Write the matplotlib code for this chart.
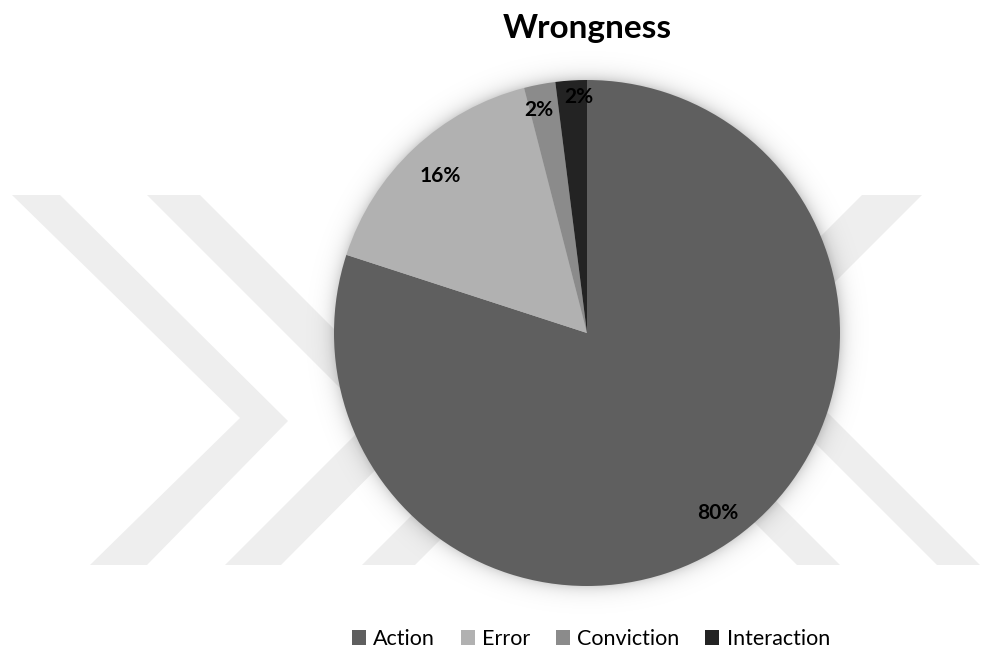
import numpy as np
import matplotlib.pyplot as plt
from matplotlib.patches import Polygon

# Wrongness breakdown
categories = ["Action", "Error", "Conviction", "Interaction"]
shares = [80, 16, 2, 2]
colors = ["#5f5f5f", "#b1b1b1", "#8b8b8b", "#232323"]

W, H = 981, 653
plt.rcParams["font.family"] = ["Lato", "DejaVu Sans"]

fig = plt.figure(figsize=(W / 100, H / 100), dpi=100)
fig.patch.set_facecolor("white")


def px(points):
    # pixel coords (origin top-left) -> figure fraction
    return [(x / W, 1 - y / H) for x, y in points]


# faint background chevrons
stripes = [
    [(12, 195), (60, 195), (288, 421), (147, 565), (90, 565), (240, 418)],
    [(147, 195), (200, 195), (425, 420), (281, 565), (225, 565), (371, 419)],
    [(362, 565), (415, 565), (600, 380), (547, 380)],
    [(797, 565), (840, 565), (655, 380), (612, 380)],
    [(862, 195), (922, 195), (697, 420), (637, 420)],
    [(937, 565), (980, 565), (795, 380), (752, 380)],
]
for pts in stripes:
    fig.patches.append(Polygon(px(pts), closed=True, transform=fig.transFigure,
                               facecolor="#eeeeee", edgecolor="none", zorder=0))

# pie axes: centre (587, 333) px, radius 253 px
R = 253
pad = 1.12
side = 2 * R * pad
ax = fig.add_axes([(587 - side / 2) / W, (H - 333 - side / 2) / H, side / W, side / H])
ax.set_zorder(2)
ax.patch.set_alpha(0)

# soft drop shadow around the pie
g = np.linspace(-pad, pad, 600)
xx, yy = np.meshgrid(g, g)
rr = np.hypot(xx, yy)
shadow = np.zeros((600, 600, 4))
shadow[..., 3] = np.where(rr >= 0.97, 0.25 * np.exp(-np.clip(rr - 0.99, 0, None) / 0.03), 0.25)
ax.imshow(shadow, extent=(-pad, pad, -pad, pad), origin="lower", zorder=0)

wedges, _ = ax.pie(shares, colors=colors, startangle=90, counterclock=False,
                   radius=1.0, wedgeprops=dict(linewidth=0))
for w in wedges:
    w.set_zorder(2)

# percentage labels placed near each wedge's mid-angle
label_dist = [0.88, 0.85, 0.90, 0.935]
label_shift = [0, 0, 1.4, -1.7]
for w, v, d, s in zip(wedges, shares, label_dist, label_shift):
    ang = np.deg2rad((w.theta1 + w.theta2) / 2 + s)
    ax.text(d * np.cos(ang), d * np.sin(ang), f"{v}%", ha="center", va="center",
            fontsize=15, fontweight="bold", color="black", zorder=3)

ax.set_xlim(-pad, pad)
ax.set_ylim(-pad, pad)
ax.set_aspect("equal")
ax.axis("off")

fig.text(587 / W, 1 - 38 / H, "Wrongness", ha="center", va="baseline",
         fontsize=24, fontweight="bold", color="black")

fig.legend(wedges, categories, loc="center", bbox_to_anchor=(591 / W, 1 - 639 / H),
           ncol=4, frameon=False, fontsize=15.5, handlelength=0.65, handleheight=0.65,
           handletextpad=0.33, columnspacing=1.2, borderpad=0)

fig.savefig("out.png", dpi=100, facecolor="white")
